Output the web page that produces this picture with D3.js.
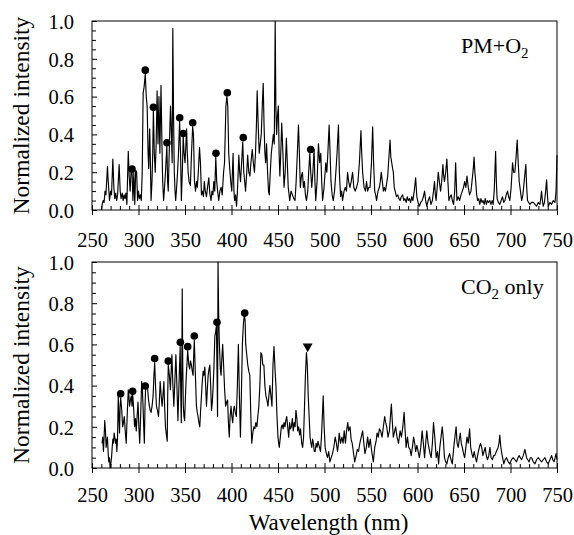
<!DOCTYPE html>
<html>
<head>
<meta charset="utf-8">
<script src="https://cdn.jsdelivr.net/npm/d3@7"></script>
<style>
  body { margin: 0; background: #fff; }
</style>
</head>
<body>
<svg id="viz"></svg>
<script>
const serif = "Liberation Serif";

// axis ticks
const xMajor = [250, 300, 350, 400, 450, 500, 550, 600, 650, 700, 750];
const yMajor = [0, 0.2, 0.4, 0.6, 0.8, 1.0];

// PM+O2 spectrum, [wavelength nm, normalized intensity]
const specPM = [[260,0.0],[261,0.03],[262,0.05],[263,0.04],[264,0.1],[265,0.08],[266.6,0.23],[267.5,0.15],[268.8,0.05],[270,0.1],[271,0.08],[272.4,0.27],[273.5,0.12],[274.5,0.06],[275.5,0.09],[276.5,0.05],[277.5,0.08],[279.2,0.24],[280.3,0.1],[281.3,0.06],[282.5,0.09],[283.5,0.05],[284.5,0.08],[285.5,0.06],[286.5,0.09],[287.5,0.03],[289,0.31],[290,0.18],[291,0.1],[292,0.2],[293,0.21],[294,0.05],[295,0.2],[296,0.03],[297,0.21],[298,0.2],[299,0.05],[300,0.1],[301,0.06],[302,0.08],[303,0.05],[304,0.2],[305,0.62],[306,0.65],[307.3,0.72],[308.3,0.6],[309.3,0.55],[310.3,0.3],[311,0.22],[312,0.43],[312.8,0.25],[313.5,0.05],[314.5,0.15],[315.3,0.3],[316,0.53],[317,0.3],[318,0.2],[319,0.35],[320,0.63],[321,0.35],[322,0.6],[323,0.3],[324.2,0.66],[325.2,0.35],[326,0.15],[327,0.05],[328,0.12],[329,0.2],[330.5,0.34],[331.3,0.15],[332,0.1],[333,0.3],[334.4,0.55],[335.4,0.4],[336.2,0.25],[336.9,0.96],[337.7,0.5],[338.5,0.2],[339.3,0.1],[340,0.05],[341,0.12],[342,0.2],[343,0.3],[344.2,0.47],[345.2,0.3],[346.1,0.05],[347.1,0.2],[348.1,0.39],[349,0.3],[350,0.25],[351,0.35],[351.7,0.43],[352.5,0.3],[353.4,0.2],[354.4,0.15],[355.8,0.13],[357,0.3],[358.2,0.44],[359.1,0.4],[360.2,0.15],[361.3,0.1],[362.3,0.15],[363.3,0.12],[364.3,0.2],[365.6,0.33],[366.6,0.25],[367.7,0.08],[368.7,0.1],[369.8,0.07],[370.8,0.15],[371.8,0.1],[373.1,0.07],[374.2,0.12],[375.6,0.17],[376.6,0.09],[378,0.05],[379,0.1],[380,0.08],[381,0.15],[382,0.1],[383.1,0.28],[384.1,0.15],[385.1,0.1],[386.3,0.05],[387.5,0.1],[388.8,0.12],[390,0.08],[391.5,0.2],[392.5,0.25],[394,0.55],[395,0.6],[396,0.55],[397,0.3],[398.1,0.22],[399.2,0.15],[400.3,0.1],[401.7,0.3],[402.6,0.1],[403.4,0.05],[404.4,0.08],[405.4,0.02],[406.4,0.1],[407.9,0.29],[408.8,0.2],[409.7,0.15],[410.9,0.25],[412.1,0.36],[413.2,0.2],[414.2,0.15],[415.1,0.1],[416.4,0.2],[417.4,0.29],[418.6,0.2],[419.8,0.18],[420.9,0.25],[422.3,0.32],[423.5,0.25],[424.7,0.2],[425.8,0.3],[426.8,0.45],[427.6,0.63],[428.7,0.45],[429.8,0.3],[430.9,0.35],[432,0.4],[433.1,0.55],[434.1,0.67],[435,0.45],[435.9,0.3],[436.8,0.25],[437.7,0.35],[438.8,0.2],[439.8,0.1],[440.6,0.08],[441.7,0.2],[442.8,0.3],[443.9,0.35],[445,0.4],[446,0.35],[447,1.0],[447.7,0.55],[448.5,0.4],[449.4,0.5],[450.4,0.55],[451.2,0.3],[452,0.18],[453,0.3],[454,0.46],[455.3,0.3],[456.5,0.12],[457.7,0.2],[459,0.38],[460,0.25],[461,0.12],[462.6,0.05],[464,0.1],[465.5,0.08],[467,0.06],[468.3,0.05],[469.5,0.15],[470.8,0.3],[472,0.45],[473,0.3],[474,0.12],[475.2,0.18],[476.3,0.2],[477.3,0.12],[478.4,0.15],[479.5,0.08],[480.6,0.05],[482,0.1],[483,0.2],[484.2,0.3],[485.2,0.2],[486.3,0.12],[487.5,0.2],[488.8,0.32],[489.7,0.15],[490.6,0.05],[492,0.15],[493.5,0.35],[494.8,0.25],[496,0.3],[497,0.15],[498,0.05],[499.5,0.12],[501.4,0.25],[502.5,0.2],[503.6,0.3],[505,0.45],[506,0.3],[507,0.15],[508.2,0.08],[509.4,0.05],[510.8,0.1],[512.2,0.2],[513.5,0.3],[515,0.45],[516,0.2],[517.3,0.07],[518.4,0.1],[519.4,0.05],[521,0.1],[522.3,0.12],[523.6,0.1],[524.8,0.2],[526,0.15],[527.3,0.12],[528.7,0.15],[530.2,0.2],[531.5,0.12],[533,0.1],[534.5,0.12],[536,0.15],[537.5,0.25],[539.2,0.42],[540,0.3],[541,0.2],[542.5,0.12],[544,0.1],[545.2,0.15],[546.4,0.1],[547.7,0.12],[549,0.12],[550.5,0.25],[551.8,0.44],[552.8,0.25],[554,0.1],[555,0.08],[556,0.05],[557.5,0.1],[559,0.12],[560,0.15],[561,0.2],[562.2,0.15],[563.3,0.1],[564.4,0.12],[565.5,0.1],[566.8,0.14],[568,0.18],[569.3,0.28],[570.5,0.37],[571.3,0.28],[572.3,0.25],[573.2,0.22],[574,0.2],[575,0.12],[576,0.1],[577.4,0.07],[578.8,0.08],[580,0.06],[581.3,0.05],[582.6,0.07],[584,0.08],[585.3,0.05],[586.5,0.06],[587.8,0.04],[589,0.07],[590.2,0.05],[591.4,0.06],[592.6,0.04],[593.8,0.07],[595,0.05],[596.5,0.1],[598,0.17],[599.3,0.07],[600.6,0.04],[602,0.02],[603.5,0.04],[605,0.05],[606.3,0.07],[607.6,0.1],[608.8,0.05],[610,0.02],[611.5,0.05],[613,0.07],[614.5,0.03],[616,0.05],[617.2,0.1],[618.3,0.15],[619.2,0.08],[620,0.05],[621.2,0.12],[622.3,0.2],[623.5,0.15],[624.8,0.1],[626,0.15],[627.3,0.24],[628.2,0.18],[629,0.15],[630.3,0.2],[631.6,0.27],[632.7,0.15],[633.8,0.05],[635,0.07],[636.3,0.08],[637.5,0.05],[638.8,0.03],[640,0.1],[641,0.25],[641.7,0.15],[642.4,0.05],[643.8,0.07],[645.3,0.05],[646.8,0.08],[648.2,0.1],[649.5,0.12],[650.7,0.15],[652,0.12],[653.2,0.18],[654.6,0.12],[656,0.08],[657.5,0.1],[659,0.17],[660,0.22],[660.8,0.28],[661.7,0.2],[662.6,0.15],[663.6,0.08],[664.7,0.05],[665.8,0.06],[667,0.03],[668.2,0.06],[669.4,0.04],[670.5,0.05],[671.7,0.03],[672.8,0.06],[674,0.03],[675.2,0.05],[676.4,0.04],[677.7,0.05],[679,0.03],[680.2,0.05],[681.3,0.03],[682.5,0.1],[684,0.31],[684.8,0.15],[685.6,0.06],[687,0.04],[688.5,0.03],[690,0.05],[691.4,0.07],[692.7,0.04],[694,0.05],[695.4,0.08],[696.8,0.1],[698,0.07],[699.3,0.05],[700.7,0.12],[702.2,0.25],[703.4,0.2],[704.7,0.2],[706,0.28],[707.2,0.37],[708.3,0.25],[709.4,0.15],[710.7,0.1],[712,0.05],[713.3,0.08],[714.7,0.15],[715.6,0.2],[716.5,0.24],[717.4,0.12],[718.3,0.05],[719.6,0.04],[720.9,0.03],[722.7,0.04],[724.5,0.04],[726.3,0.03],[728,0.02],[729.8,0.04],[731.6,0.03],[732.5,0.06],[733.4,0.1],[734.3,0.05],[735.2,0.02],[736.5,0.04],[737.8,0.1],[738.8,0.16],[739.7,0.08],[740.6,0.02],[742.4,0.04],[744.2,0.03],[746,0.05],[747.8,0.04],[749,0.1],[750,0.29]];

// CO2 only spectrum
const specCO2 = [[260.8,0.12],[261.5,0.15],[262.3,0.08],[263,0.15],[263.7,0.23],[264.5,0.18],[265.2,0.1],[266,0.13],[266.6,0.15],[267.3,0.08],[268,0.03],[268.8,0.05],[269.5,0.0],[270.2,0.02],[271,0.05],[271.7,0.1],[272.4,0.14],[273.1,0.12],[273.8,0.17],[274.5,0.15],[275.3,0.12],[276,0.14],[276.7,0.08],[277.5,0.15],[278.2,0.35],[278.9,0.25],[279.6,0.17],[280.2,0.3],[280.8,0.34],[282,0.28],[282.9,0.2],[283.8,0.22],[284.7,0.25],[285.7,0.18],[286.8,0.12],[287.8,0.25],[289,0.38],[289.7,0.35],[290.4,0.3],[291.3,0.33],[292.2,0.35],[293.1,0.3],[293.7,0.36],[294.9,0.28],[295.8,0.2],[296.7,0.24],[297.6,0.18],[298.5,0.25],[299.5,0.32],[300.4,0.2],[301.3,0.12],[302.3,0.25],[303.4,0.42],[304.2,0.38],[304.9,0.3],[305.6,0.2],[306.3,0.12],[307,0.3],[307.6,0.38],[308.8,0.4],[309.9,0.38],[310.8,0.33],[311.7,0.3],[312.6,0.28],[313.5,0.27],[314.6,0.3],[315.7,0.35],[316.6,0.45],[317.4,0.51],[318.3,0.4],[319.3,0.3],[320.4,0.28],[321.5,0.25],[322.4,0.32],[323.3,0.42],[324.4,0.35],[325.4,0.3],[326.3,0.35],[327.3,0.42],[328.1,0.3],[329,0.2],[330,0.16],[330.9,0.13],[331.4,0.35],[332,0.5],[333.2,0.45],[334.3,0.38],[335.2,0.48],[335.9,0.55],[337,0.4],[338,0.3],[339.1,0.42],[340.2,0.55],[341.3,0.4],[342.4,0.23],[343.5,0.4],[344.8,0.59],[345.5,0.35],[346,0.22],[346.6,0.5],[347,0.87],[347.6,0.5],[348.2,0.3],[348.9,0.25],[349.6,0.23],[350.5,0.35],[351.4,0.45],[352.3,0.52],[352.9,0.57],[354.1,0.5],[355,0.48],[355.9,0.52],[356.9,0.5],[357.8,0.47],[358.7,0.45],[359.4,0.55],[360,0.62],[361.2,0.45],[362.3,0.3],[363.2,0.27],[364,0.25],[365,0.22],[365.9,0.2],[366.8,0.28],[367.7,0.35],[368.6,0.42],[369.5,0.47],[370.4,0.45],[371.3,0.49],[372.2,0.4],[373.1,0.3],[374,0.38],[374.9,0.45],[375.8,0.48],[376.7,0.5],[377.6,0.4],[378.5,0.28],[379.4,0.32],[380.3,0.4],[381.2,0.5],[382.1,0.64],[382.9,0.66],[383.8,0.69],[384.5,0.45],[385,0.25],[385.5,1.0],[386.2,0.75],[387,0.6],[388,0.48],[388.8,0.45],[389.5,0.52],[390.5,0.6],[391.5,0.5],[392.6,0.38],[393.7,0.3],[394.8,0.32],[395.8,0.33],[396.7,0.22],[397.6,0.15],[398.5,0.25],[399.5,0.3],[400.4,0.25],[401.3,0.22],[402.2,0.28],[403,0.3],[404.1,0.27],[405.2,0.25],[406.3,0.4],[407.4,0.6],[408.5,0.35],[409.6,0.15],[410.6,0.35],[411.7,0.6],[412.8,0.7],[413.7,0.74],[414.6,0.72],[415.3,0.6],[416.4,0.55],[417.5,0.5],[418.6,0.47],[419.7,0.45],[420.8,0.25],[421.8,0.12],[422.9,0.17],[424,0.2],[425.1,0.19],[426.2,0.22],[427.3,0.2],[428.3,0.25],[429.4,0.3],[430.5,0.4],[431.6,0.56],[432.7,0.55],[433.7,0.5],[434.8,0.5],[435.9,0.4],[437,0.35],[438.1,0.33],[439.2,0.3],[440.2,0.35],[441.3,0.4],[442.4,0.35],[443.5,0.3],[444.6,0.5],[445.7,0.59],[446.8,0.48],[447.8,0.4],[448.9,0.25],[450,0.15],[450.7,0.12],[451.4,0.1],[452.5,0.15],[453.6,0.2],[454.6,0.21],[455.5,0.19],[456.5,0.22],[457.5,0.2],[458.4,0.23],[459.4,0.25],[460.4,0.2],[461.5,0.15],[462.5,0.22],[463.4,0.19],[464.4,0.2],[465.4,0.24],[466.4,0.18],[467.4,0.22],[468.4,0.2],[469.3,0.28],[470.3,0.24],[471.2,0.18],[472.2,0.2],[473.2,0.16],[474.2,0.19],[475.5,0.12],[476.5,0.1],[477.5,0.15],[478.5,0.3],[479.5,0.45],[480.6,0.56],[481.5,0.5],[482.5,0.35],[483.5,0.25],[484.5,0.15],[485.4,0.12],[486.3,0.1],[487.2,0.14],[488.1,0.12],[489,0.08],[490,0.08],[491,0.12],[492,0.1],[493,0.13],[493.5,0.12],[494.6,0.1],[495.7,0.08],[496.7,0.15],[497.7,0.25],[498.6,0.35],[499.6,0.2],[500.7,0.1],[502,0.07],[503.2,0.05],[504.5,0.08],[505.8,0.03],[507.2,0.05],[508.6,0.07],[510,0.1],[511.5,0.15],[512.8,0.12],[514,0.08],[515,0.12],[515.8,0.17],[517.2,0.12],[518.7,0.15],[520,0.12],[521.2,0.18],[522.5,0.12],[523.7,0.18],[525,0.22],[526,0.18],[527.5,0.2],[528.6,0.14],[529.8,0.12],[531,0.08],[532.5,0.03],[534,0.06],[535.3,0.09],[536.6,0.08],[538,0.12],[539.5,0.15],[541,0.18],[542.3,0.12],[543.5,0.07],[545,0.1],[546.4,0.15],[547.7,0.1],[549.2,0.14],[550.8,0.08],[552.5,0.03],[554,0.1],[555.5,0.13],[556.5,0.17],[557.8,0.15],[559,0.19],[560.3,0.18],[561.9,0.15],[563.3,0.2],[564.7,0.25],[565.8,0.22],[566.9,0.2],[568.3,0.15],[569.8,0.18],[570.9,0.25],[571.9,0.31],[573,0.22],[574,0.15],[575.5,0.18],[576.5,0.2],[578,0.15],[579.6,0.12],[581.3,0.18],[582.7,0.15],[584.2,0.2],[585.6,0.27],[586.7,0.18],[587.8,0.1],[589.2,0.15],[590.6,0.1],[592,0.09],[593.2,0.06],[594.5,0.1],[595.8,0.15],[597,0.12],[598,0.08],[599.4,0.11],[600.7,0.08],[602,0.05],[603.5,0.1],[605,0.18],[606.3,0.12],[607.6,0.05],[608.8,0.12],[610,0.18],[611.1,0.13],[612.2,0.1],[613.5,0.07],[614.7,0.05],[616,0.12],[617.2,0.22],[618.6,0.15],[620.1,0.05],[621.5,0.08],[622.7,0.02],[624,0.1],[625.3,0.15],[626.6,0.2],[627.8,0.14],[629,0.05],[630.3,0.03],[631.6,0.02],[633,0.05],[634.5,0.07],[636,0.04],[637.4,0.02],[639,0.1],[640.2,0.15],[641.5,0.2],[642.6,0.12],[643.8,0.1],[645,0.14],[646,0.17],[647.1,0.12],[648.2,0.1],[649.5,0.07],[650.7,0.05],[652,0.1],[653.2,0.15],[654.6,0.12],[656,0.19],[657.2,0.1],[658.5,0.07],[659.7,0.05],[661,0.08],[662.3,0.05],[663.5,0.03],[665,0.07],[666.5,0.1],[667.8,0.12],[669,0.1],[670.3,0.06],[671.5,0.08],[672.8,0.1],[674,0.06],[675.3,0.04],[676.6,0.06],[677.9,0.1],[679.1,0.05],[680.6,0.04],[681.8,0.06],[683,0.06],[684.8,0.08],[686.7,0.1],[687.6,0.12],[688.5,0.16],[689.4,0.11],[690.3,0.08],[691.5,0.05],[692.8,0.02],[694.2,0.04],[695.7,0.05],[697.5,0.03],[699.3,0.02],[701,0.04],[702.9,0.05],[704.7,0.04],[706.5,0.03],[708,0.05],[709.3,0.06],[710.6,0.05],[711.9,0.04],[713.7,0.06],[715.5,0.09],[716.4,0.07],[717.3,0.05],[718.6,0.04],[720,0.03],[721.4,0.05],[722.7,0.05],[724.5,0.03],[726.3,0.02],[728,0.04],[729.8,0.05],[731.6,0.04],[733.4,0.03],[735.2,0.04],[737,0.05],[738.8,0.03],[740.6,0.02],[742.4,0.04],[744.2,0.06],[745.5,0.04],[746.8,0.03],[748,0.05],[749,0.07],[750,0.04]];

// marked peaks: circles, and one triangle in the CO2 panel
const dotsPM = [[293,0.217],[307.3,0.74],[316,0.543],[330.6,0.356],[344.3,0.488],[348.2,0.405],[358.3,0.462],[383.3,0.30],[395.5,0.62],[412.7,0.383],[485.2,0.32]];
const dotsCO2 = [[280.8,0.36],[293.7,0.372],[307.3,0.398],[317.4,0.531],[332,0.519],[345,0.61],[352.9,0.589],[360,0.641],[384.4,0.707],[414.2,0.752]];
const triCO2 = [[481.9,0.59]];

const width = 574, height = 535;
const svg = d3.select("#viz").attr("width", width).attr("height", height);

const x = d3.scaleLinear().domain([250, 750]).range([92, 557]);

const xMinor = d3.range(260, 750, 10).filter(d => d % 50 !== 0);
const yMinor = d3.range(0.05, 1, 0.05).map(d => +d.toFixed(2)).filter(d => Math.round(d * 100) % 20 !== 0);

function drawPanel(spec, dots, tris, yTop, yBot, label, labelGap) {
    const y = d3.scaleLinear().domain([0, 1]).range([yBot, yTop]);
    const g = svg.append("g");

    // frame
    g.append("rect")
        .attr("x", x(250)).attr("y", y(1))
        .attr("width", x(750) - x(250)).attr("height", y(0) - y(1))
        .attr("fill", "none").attr("stroke", "#000").attr("stroke-width", 1);

    // x axis, major ticks cross the axis line
    const xa = g.append("g")
        .attr("transform", `translate(0,${yBot})`)
        .call(d3.axisBottom(x).tickValues(xMajor).tickSize(5).tickFormat(d3.format("d")));
    xa.select(".domain").remove();
    xa.selectAll(".tick line").attr("y1", -5);
    xa.selectAll(".tick text").attr("y", labelGap);

    g.append("g")
        .attr("transform", `translate(0,${yBot})`)
        .call(d3.axisBottom(x).tickValues(xMinor).tickSize(-4).tickFormat(""))
        .select(".domain").remove();

    // y axis
    const ya = g.append("g")
        .attr("transform", `translate(${x(250)},0)`)
        .call(d3.axisLeft(y).tickValues(yMajor).tickSize(5).tickFormat(d3.format(".1f")));
    ya.select(".domain").remove();
    ya.selectAll(".tick line").attr("x2", 5);
    ya.selectAll(".tick text").attr("x", -18).attr("dy", "0.36em");

    g.append("g")
        .attr("transform", `translate(${x(250)},0)`)
        .call(d3.axisLeft(y).tickValues(yMinor).tickSize(-4).tickFormat(""))
        .select(".domain").remove();

    g.selectAll("g").attr("font-family", serif).attr("font-size", 20.5);
    g.selectAll(".tick line").attr("stroke", "#000");
    g.selectAll(".tick text").attr("fill", "#000");

    // spectrum
    const line = d3.line().x(d => x(d[0])).y(d => y(d[1]));
    g.append("path")
        .datum(spec)
        .attr("d", line)
        .attr("fill", "none")
        .attr("stroke", "#000")
        .attr("stroke-width", 1.15)
        .attr("stroke-linejoin", "round");

    g.selectAll("circle.pk")
        .data(dots)
        .enter()
            .append("circle")
            .attr("class", "pk")
            .attr("cx", d => x(d[0]))
            .attr("cy", d => y(d[1]))
            .attr("r", 3.8)
            .attr("fill", "#000");

    g.selectAll("path.tri")
        .data(tris)
        .enter()
            .append("path")
            .attr("class", "tri")
            .attr("d", d3.symbol().type(d3.symbolTriangle).size(42))
            .attr("transform", d => `translate(${x(d[0])},${y(d[1])}) rotate(180)`)
            .attr("fill", "#000");

    // y axis title
    g.append("text")
        .attr("transform", `translate(28.5,${(yTop + yBot) / 2}) rotate(-90)`)
        .attr("text-anchor", "middle")
        .attr("font-family", serif)
        .attr("font-size", 23.5)
        .text("Normalized intensity");

    // panel label with subscript
    const t = g.append("text")
        .attr("x", 461).attr("y", yTop + 31.5)
        .attr("font-family", serif)
        .attr("font-size", 22);
    t.append("tspan").text(label[0]);
    t.append("tspan").attr("font-size", 15).attr("dy", 5).text(label[1]);
    if (label[2]) t.append("tspan").attr("dy", -5).text(label[2]);
}

drawPanel(specPM, dotsPM, [], 21, 210, ["PM+O", "2", ""], 22.5);
drawPanel(specCO2, dotsCO2, triCO2, 262, 468, ["CO", "2", " only"], 19.5);

svg.append("text")
    .attr("x", (x(250) + x(750)) / 2 + 4)
    .attr("y", 529.5)
    .attr("text-anchor", "middle")
    .attr("font-family", serif)
    .attr("font-size", 23)
    .text("Wavelength (nm)");
</script>
</body>
</html>
